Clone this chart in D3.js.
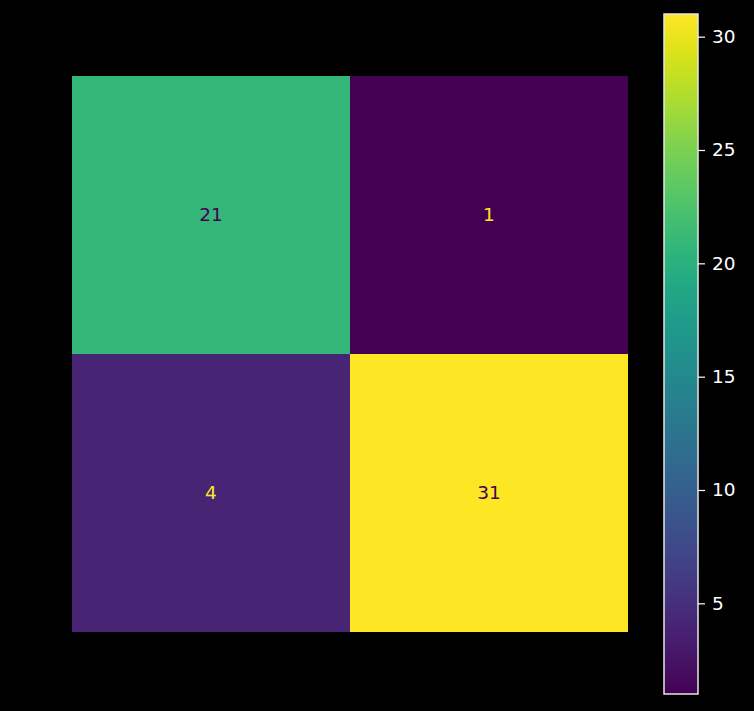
<!DOCTYPE html>
<html>
<head>
<meta charset="utf-8">
<script src="https://cdn.jsdelivr.net/npm/d3@7/dist/d3.min.js"></script>
<style>
	html, body { margin: 0; padding: 0; background: #000; }
	svg { display: block; font-family: "DejaVu Sans", sans-serif; }
</style>
</head>
<body>
<svg id="chart" width="754" height="711"></svg>
<script>
	"use strict";

	// confusion matrix values
	var rowLabels = ["0", "1"],
		colLabels = ["0", "1"],
		values = [
			[21, 1],
			[4, 31]
		],
		colorTicks = [5, 10, 15, 20, 25, 30];

	var svg = d3.select("#chart"),
		cells = [];

	values.forEach(function (row, i) {
		row.forEach(function (v, j) {
			cells.push({ r: rowLabels[i], c: colLabels[j], v: v });
		});
	});

	var vmin = d3.min(cells, function (d) { return d.v; }),
		vmax = d3.max(cells, function (d) { return d.v; });

	var color = d3.scaleSequential(d3.interpolateViridis).domain([vmin, vmax]);

	var x = d3.scaleBand().domain(colLabels).range([72, 628]),
		y = d3.scaleBand().domain(rowLabels).range([76, 632]);

	/**
	 * Draw the matrix cells and annotations
	 */
	var drawMatrix = function () {
		var g = svg.append("g").attr("class", "matrix");

		g.selectAll("rect")
			.data(cells)
			.enter().append("rect")
			.attr("x", function (d) { return x(d.c); })
			.attr("y", function (d) { return y(d.r); })
			.attr("width", x.bandwidth())
			.attr("height", y.bandwidth())
			.attr("fill", function (d) { return color(d.v); });

		g.selectAll("text")
			.data(cells)
			.enter().append("text")
			.attr("x", function (d) { return x(d.c) + x.bandwidth() / 2; })
			.attr("y", function (d) { return y(d.r) + y.bandwidth() / 2; })
			.attr("dy", "0.33em")
			.attr("text-anchor", "middle")
			.attr("font-size", "18.5px")
			.attr("fill", function (d) {
				return d.v < (vmin + vmax) / 2 ? color(vmax) : color(vmin);
			})
			.text(function (d) { return d.v; });
	};

	/**
	 * Draw the colorbar with its axis
	 */
	var drawColorbar = function () {
		var cbX = 664, cbW = 34, cbTop = 14, cbBottom = 694;
		var cy = d3.scaleLinear().domain([vmin, vmax]).range([cbBottom, cbTop]);

		var defs = svg.append("defs"),
			grad = defs.append("linearGradient")
				.attr("id", "cbgrad")
				.attr("x1", "0").attr("y1", "1")
				.attr("x2", "0").attr("y2", "0");

		d3.range(0, 1.0001, 0.05).forEach(function (t) {
			grad.append("stop")
				.attr("offset", t)
				.attr("stop-color", d3.interpolateViridis(t));
		});

		svg.append("rect")
			.attr("x", cbX)
			.attr("y", cbTop)
			.attr("width", cbW)
			.attr("height", cbBottom - cbTop)
			.attr("fill", "url(#cbgrad)")
			.attr("stroke", "#e6e6e6")
			.attr("stroke-width", 1.5);

		var axis = d3.axisRight(cy)
			.tickValues(colorTicks)
			.tickSize(7)
			.tickPadding(7);

		var ag = svg.append("g")
			.attr("transform", "translate(" + (cbX + cbW) + ",0)")
			.call(axis);

		ag.select(".domain").remove();
		ag.selectAll(".tick line").attr("stroke", "#fff").attr("stroke-width", 1.2);
		ag.selectAll(".tick text")
			.attr("fill", "#fff")
			.attr("font-size", "18.5px")
			.attr("font-family", "DejaVu Sans, sans-serif");
	};

	drawMatrix();
	drawColorbar();
</script>
</body>
</html>
